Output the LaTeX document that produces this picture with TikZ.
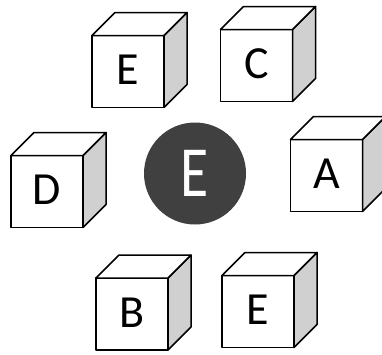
\documentclass[tikz,border=0pt]{standalone}
\usepackage{fontspec}
\setmainfont{Carlito}
\definecolor{sidegray}{RGB}{208,208,208}
\definecolor{hubgray}{RGB}{64,64,64}
\tikzset{
  face/.style={draw=black, line width=1.5pt, line join=round},
  front/.style={face, fill=white, minimum size=72pt, inner sep=0pt, outer sep=0pt,
    font=\fontsize{46}{46}\selectfont},
}
\begin{document}
\begin{tikzpicture}[x=1pt, y=-1pt]
  \useasboundingbox (0,0) rectangle (382,354);
  % the six blocks
  \foreach \n/\x/\y/\t in {e1/128/71.5/E, c/256.5/65.5/C, d/47/191.5/D,
      a/326.5/175.5/A, b/132/314/B, e2/258/311.5/E} {
    \node[front] (\n) at (\x,\y) {\raisebox{3pt}{\t}};
    \draw[face, fill=sidegray] (\n.north east) -- ++(23,-23) -- ++(0,72) -- (\n.south east) -- cycle;
    \draw[face, fill=white] (\n.north west) -- ++(23,-23) -- ++(72,0) -- (\n.north east) -- cycle;
  }
  % centre letter
  \node[circle, fill=hubgray, minimum size=102pt, inner sep=0pt, text=white,
    font=\fontsize{72}{72}\selectfont] (hub) at (195,173.5) {\raisebox{-3.5pt}{\scalebox{0.8}[1]{E}}};
\end{tikzpicture}
\end{document}
